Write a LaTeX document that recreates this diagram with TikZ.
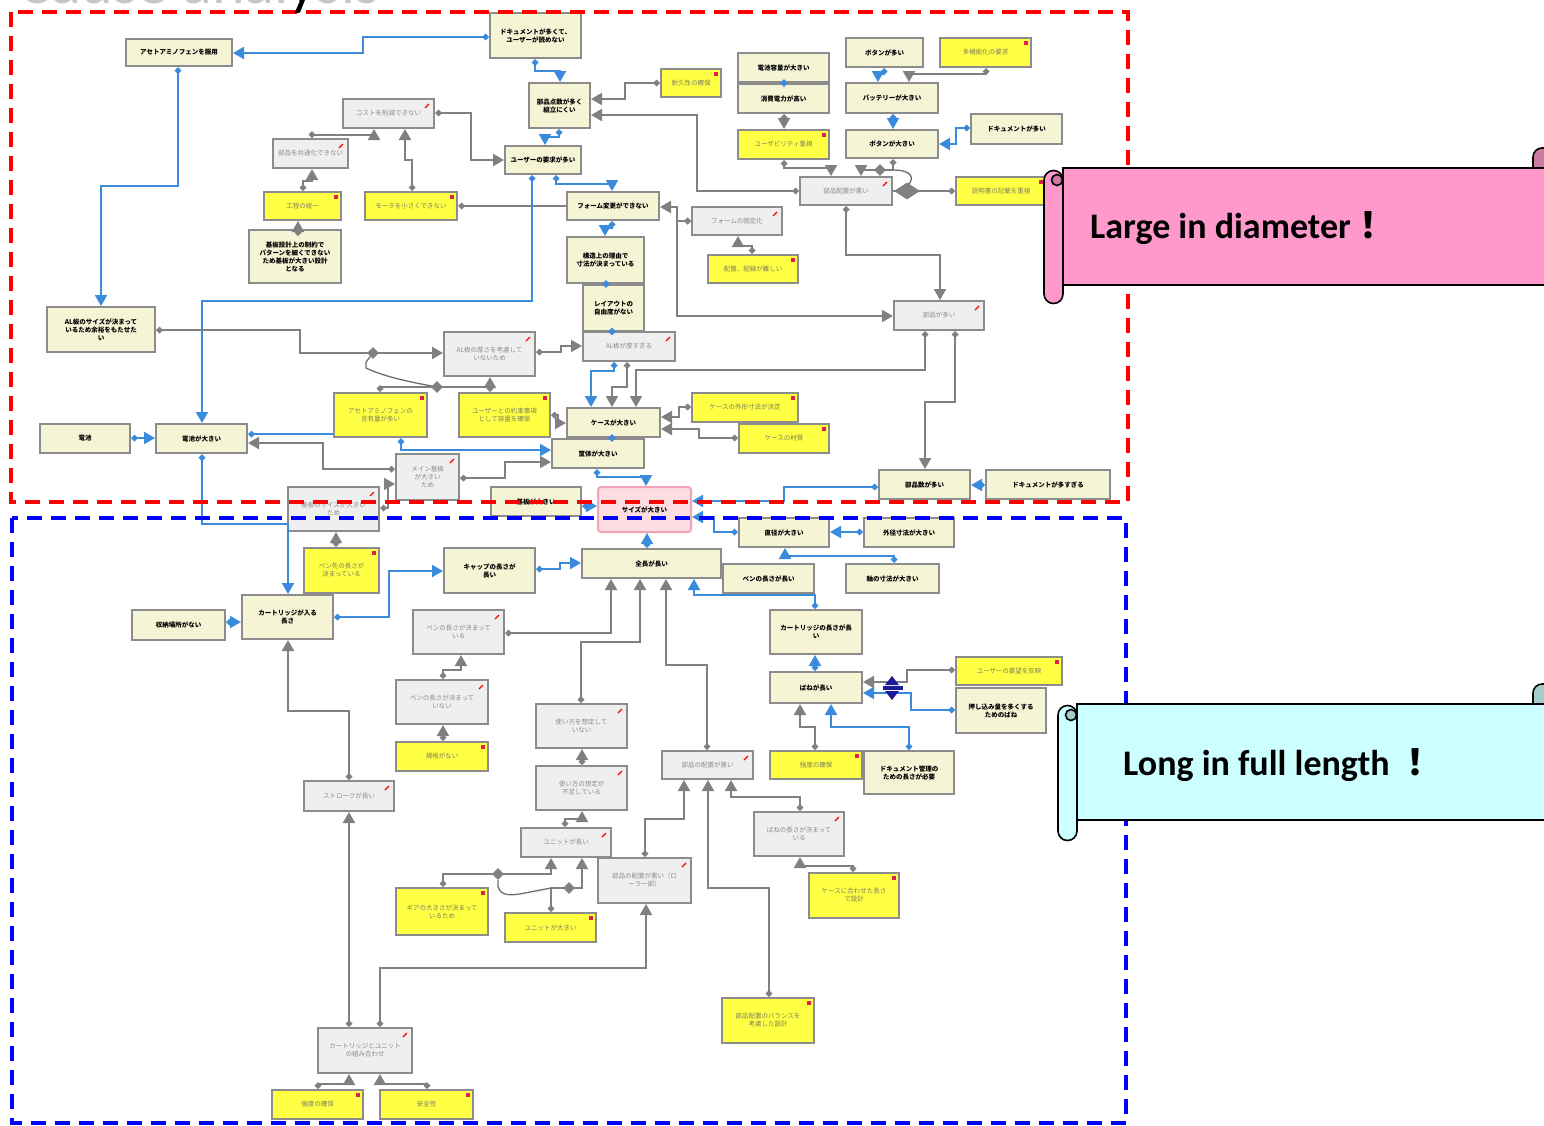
\documentclass[tikz,border=0pt]{standalone}
\usepackage{fontspec}
\newfontfamily\jp{Noto Sans CJK JP}
\newfontfamily\carl{Carlito}
\usetikzlibrary{arrows.meta,shapes.geometric}

\definecolor{boxbeige}{HTML}{F5F5D6}
\definecolor{boxyellow}{HTML}{FFFF44}
\definecolor{boxgray}{HTML}{EFEFEF}
\definecolor{boxborder}{HTML}{8C8C8C}
\definecolor{linkgray}{HTML}{808080}
\definecolor{linkblue}{HTML}{3A8BDB}
\definecolor{ytext}{HTML}{7E7E60}
\definecolor{gtext}{HTML}{8A8A8A}
\definecolor{pinkfill}{HTML}{FBDDE2}
\definecolor{pinkline}{HTML}{F4A3B6}
\definecolor{scrollpink}{HTML}{FF99CC}
\definecolor{scrollpinkdark}{HTML}{CC7AA3}
\definecolor{scrollcyan}{HTML}{CCFFFF}
\definecolor{scrollcyandark}{HTML}{A3CCCC}
\definecolor{navymark}{HTML}{1A1A9A}
\definecolor{notemark}{HTML}{E0204A}

% box with corners (x1,y1)-(x2,y2) in pixel units
\newcommand\mkbox[7]{\node[#2,minimum width={#5pt-#3pt},minimum height={#6pt-#4pt}] (#1) at ({(#3+#5)/2},{(#4+#6)/2}) {#7};}

\begin{document}
\begin{tikzpicture}[x=1pt,y=-1pt,
  boxbase/.style={draw=boxborder,line width=2pt,inner sep=1pt,align=center},
  bg/.style={boxbase,fill=boxbeige,text=black,font=\jp\bfseries\fontsize{6.5}{8}\selectfont},
  yb/.style={boxbase,fill=boxyellow,text=ytext,font=\jp\fontsize{6.5}{8}\selectfont,
    path picture={\fill[notemark] ([xshift=-7pt,yshift=-3pt]path picture bounding box.north east) rectangle ++(4pt,-4pt);}},
  gb/.style={boxbase,fill=boxgray,text=gtext,font=\jp\fontsize{6.5}{8}\selectfont,
    path picture={\draw[red,line width=1.2pt] ([xshift=-9pt,yshift=-9pt]path picture bounding box.north east) -- ++(4pt,4pt);}},
  pk/.style={boxbase,fill=pinkfill,draw=pinkline,rounded corners=3pt,text=black,font=\jp\bfseries\fontsize{6.5}{8}\selectfont},
  lk/.style={line width=2pt,line join=miter},
  gl/.style={lk,draw=linkgray,arrows={Diamond[length=7pt,width=7pt]-Triangle[length=11pt,width=12pt]}},
  bl/.style={lk,draw=linkblue,arrows={Diamond[length=7pt,width=7pt]-Triangle[length=11pt,width=12pt]}},
  gline/.style={lk,draw=linkgray,arrows={Diamond[length=7pt,width=7pt]-}},
  bline/.style={lk,draw=linkblue,arrows={Diamond[length=7pt,width=7pt]-}},
  jd/.style={diamond,fill=linkgray,inner sep=0pt,minimum width=12pt,minimum height=12pt},
  bigdia/.style={diamond,fill=linkgray,inner sep=0pt,minimum width=26pt,minimum height=17pt},
  bdot/.style={diamond,fill=linkblue,inner sep=0pt,minimum width=8pt,minimum height=8pt},
  curl/.style={draw=linkgray!85!black,line width=1.3pt},
  scroll/.style={draw=black,line width=1.6pt}
]
\useasboundingbox (0,0) rectangle (1544,1125);

% ---------------- upper cluster ----------------
\mkbox{b1}{bg}{126}{39}{232}{66}{アセトアミノフェンを服用}
\mkbox{b2}{bg}{490}{13}{581}{58}{ドキュメントが多くて、\\ユーザーが読めない}
\mkbox{b3}{bg}{529}{83}{590}{128}{部品点数が多く\\組立にくい}
\mkbox{b4}{yb}{661}{69}{721}{97}{耐久性の確保}
\mkbox{b5}{gb}{343}{99}{434}{128}{コストを削減できない}
\mkbox{b6}{gb}{273}{139}{348}{168}{部品を共通化できない}
\mkbox{b7}{bg}{505}{146}{581}{174}{ユーザーの要求が多い}
\mkbox{b8}{yb}{264}{192}{341}{220}{工程の統一}
\mkbox{b9}{yb}{365}{192}{457}{220}{モータを小さくできない}
\mkbox{b10}{bg}{249}{230}{341}{283}{基板設計上の制約で\\パターンを細くできない\\ため基板が大きい設計\\となる}
\mkbox{b11}{bg}{567}{192}{659}{220}{フォーム変更ができない}
\mkbox{b12}{gb}{692}{207}{782}{235}{フォームの固定化}
\mkbox{b13}{yb}{708}{255}{798}{283}{配置、配線が難しい}
\mkbox{b14}{bg}{567}{237}{644}{283}{構造上の理由で\\寸法が決まっている}
\mkbox{b15}{bg}{583}{285}{644}{331}{レイアウトの\\自由度がない}
\mkbox{b16}{bg}{738}{53}{829}{82}{電池容量が大きい}
\mkbox{b17}{bg}{738}{84}{829}{113}{消費電力が高い}
\mkbox{b18}{yb}{738}{130}{829}{159}{ユーザビリティ重視}
\mkbox{b19}{bg}{846}{38}{923}{67}{ボタンが多い}
\mkbox{b20}{yb}{940}{38}{1031}{67}{多機能化の要求}
\mkbox{b21}{bg}{846}{83}{938}{113}{バッテリーが大きい}
\mkbox{b22}{bg}{846}{130}{938}{158}{ボタンが大きい}
\mkbox{b23}{bg}{971}{114}{1062}{144}{ドキュメントが多い}
\mkbox{b24}{gb}{800}{177}{892}{205}{部品配置が悪い}
\mkbox{b25}{yb}{956}{177}{1046}{205}{説明書の記載を重視}
\mkbox{b26}{bg}{47}{307}{155}{352}{AL板のサイズが決まって\\いるため余裕をもたせた\\い}
\mkbox{b27}{gb}{444}{332}{535}{376}{AL板の厚さを考慮して\\いないため}
\mkbox{b28}{gb}{583}{332}{675}{361}{AL板が厚すぎる}
\mkbox{b29}{gb}{894}{301}{984}{330}{部品が多い}
\mkbox{b30}{yb}{334}{393}{427}{437}{アセトアミノフェンの\\含有量が多い}
\mkbox{b31}{yb}{459}{393}{550}{437}{ユーザーとの約束事項\\として容量を確保}
\mkbox{b32}{bg}{567}{408}{660}{437}{ケースが大きい}
\mkbox{b33}{yb}{692}{393}{798}{422}{ケースの外形寸法が決定}
\mkbox{b34}{yb}{739}{424}{829}{453}{ケースの材質}
\mkbox{b35}{bg}{40}{424}{130}{453}{電池}
\mkbox{b36}{bg}{156}{424}{247}{453}{電池が大きい}
\mkbox{b37}{bg}{552}{439}{644}{468}{筐体が大きい}
\mkbox{b38}{gb}{396}{454}{459}{500}{メイン基板\\が大きい\\ため}
\mkbox{b39}{gb}{288}{487}{379}{531}{基板のサイズが大きい\\ため}
\mkbox{b40}{bg}{491}{487}{581}{516}{基板が大きい}
\mkbox{b41}{pk}{598}{487}{691}{532}{サイズが大きい}
\mkbox{b42}{bg}{879}{470}{970}{499}{部品数が多い}
\mkbox{b43}{bg}{986}{470}{1110}{499}{ドキュメントが多すぎる}

% ---------------- lower cluster ----------------
\mkbox{b44}{bg}{739}{518}{829}{547}{直径が大きい}
\mkbox{b45}{bg}{864}{518}{954}{547}{外径寸法が大きい}
\mkbox{b46}{bg}{582}{549}{721}{578}{全長が長い}
\mkbox{b47}{bg}{723}{564}{814}{593}{ペンの長さが長い}
\mkbox{b48}{bg}{846}{564}{939}{593}{軸の寸法が大きい}
\mkbox{b49}{yb}{304}{548}{379}{593}{ペン先の長さが\\決まっている}
\mkbox{b50}{bg}{444}{548}{535}{593}{キャップの長さが\\長い}
\mkbox{b51}{bg}{132}{610}{225}{640}{収納場所がない}
\mkbox{b52}{bg}{242}{595}{333}{639}{カートリッジが入る\\長さ}
\mkbox{b53}{gb}{413}{610}{504}{654}{ペンの長さが決まって\\いる}
\mkbox{b54}{gb}{396}{680}{488}{724}{ペンの長さが決まって\\いない}
\mkbox{b55}{yb}{396}{742}{488}{771}{規格がない}
\mkbox{b56}{bg}{770}{610}{862}{654}{カートリッジの長さが長\\い}
\mkbox{b57}{bg}{770}{672}{862}{703}{ばねが長い}
\mkbox{b58}{yb}{956}{657}{1062}{685}{ユーザーの要望を反映}
\mkbox{b59}{bg}{956}{688}{1046}{733}{押し込み量を多くする\\ためのばね}
\mkbox{b60}{yb}{770}{751}{862}{779}{強度の確保}
\mkbox{b61}{bg}{864}{751}{954}{794}{ドキュメント管理の\\ための長さが必要}
\mkbox{b62}{gb}{536}{704}{627}{748}{使い方を想定して\\いない}
\mkbox{b63}{gb}{536}{766}{627}{810}{使い方の想定が\\不足している}
\mkbox{b64}{gb}{662}{751}{753}{779}{部品の配置が悪い}
\mkbox{b65}{gb}{304}{781}{394}{811}{ストロークが長い}
\mkbox{b66}{gb}{521}{828}{611}{857}{ユニットが長い}
\mkbox{b67}{gb}{598}{858}{691}{903}{部品の配置が悪い（ロ\\ーラー部）}
\mkbox{b68}{gb}{754}{812}{844}{856}{ばねの長さが決まって\\いる}
\mkbox{b69}{yb}{396}{888}{488}{935}{ギアの大きさが決まって\\いるため}
\mkbox{b70}{yb}{505}{913}{596}{942}{ユニットが大きい}
\mkbox{b71}{yb}{809}{873}{899}{918}{ケースに合わせた長さ\\で設計}
\mkbox{b72}{yb}{722}{998}{814}{1043}{部品配置のバランスを\\考慮した設計}
\mkbox{b73}{gb}{318}{1028}{412}{1073}{カートリッジとユニット\\の組み合わせ}
\mkbox{b74}{yb}{272}{1090}{363}{1119}{強度の確保}
\mkbox{b75}{yb}{380}{1090}{473}{1119}{安全性}

% ---------------- connectors: upper cluster ----------------
\draw[bl] (b2.west |- 0,37) -- (363,37) -- (363,53) -- (b1.east |- 0,53);
\draw[bl] (b1.south -| 178,0) -- (178,186) -- (101,186) -- (b26.north -| 101,0);
\draw[bl] (b2.south -| 535,0) -- (535,71) -- (560,71) -- (b3.north -| 560,0);
\draw[bl] (b3.south -| 559,0) -- (559,137) -- (545,137) -- (b7.north -| 545,0);
\draw[gl] (b4.west |- 0,83) -- (625,83) -- (625,99) -- (b3.east |- 0,99);
\draw[gl] (b24.west |- 0,191) -- (697,191) -- (697,115) -- (b3.east |- 0,115);
\draw[gl] (b5.east |- 0,113) -- (471,113) -- (471,160) -- (b7.west |- 0,160);
\draw[gl] (b6.north -| 312,0) -- (312,135) -- (374,135) -- (b5.south -| 374,0);
\draw[gl] (b9.north -| 412,0) -- (412,160) -- (405,160) -- (b5.south -| 405,0);
\draw[gl] (b8.north -| 303,0) -- (303,181) -- (312,181) -- (b6.south -| 312,0);
\draw[gl] (b10.north -| 298,0) -- (b8.south -| 298,0);
\draw[gline] (b9.east |- 0,206) -- (b11.west |- 0,206);
\draw[bl] (b7.south -| 532,0) -- (532,301) -- (202,301) -- (b36.north -| 202,0);
\draw[bl] (b7.south -| 556,0) -- (556,184) -- (612,184) -- (b11.north -| 612,0);
\draw[bl] (b11.south -| 612,0) -- (612,228) -- (605,228) -- (b14.north -| 605,0);
\draw[gl] (b12.west |- 0,221) -- (677,221) -- (677,207) -- (b11.east |- 0,207);
\draw[gl] (b12.west |- 0,221) -- (677,221) -- (677,316) -- (b29.west |- 0,316);
\draw[gl] (b13.north -| 752,0) -- (752,246) -- (738,246) -- (b12.south -| 738,0);
\node[bdot] (d1) at (606,284) {};
\node[bdot] (d2) at (612,331.5) {};
\node[bdot] (d3) at (784,83) {};
\draw[gl] (b17.south -| 784,0) -- (b18.north -| 784,0);
\draw[bl] (b19.south -| 884,0) -- (884,74) -- (878,74) -- (b21.north -| 878,0);
\draw[gl] (b20.south -| 986,0) -- (986,74) -- (909,74) -- (b21.north -| 909,0);
\draw[bl] (b21.south -| 893,0) -- (b22.north -| 893,0);
\draw[bl] (b23.west |- 0,128) -- (956,128) -- (956,144) -- (b22.east |- 0,144);
\draw[gl] (b18.south -| 784,0) -- (784,168) -- (831,168) -- (b24.north -| 831,0);
\draw[gl] (b22.south -| 893,0) -- (893,170) -- (861,170) -- (b24.north -| 861,0);
\node[jd] (j0) at (880,170) {};
\draw[curl] (893,170) .. controls (913,170) and (915,179) .. (907,186);
\draw[gline] (b25.west |- 0,191) -- (b24.east |- 0,191);
\node[bigdia] (j5) at (907,191) {};
\draw[gl] (b24.south -| 846,0) -- (846,255) -- (940,255) -- (b29.north -| 940,0);
\draw[gl] (b29.south -| 955,0) -- (955,402) -- (925,402) -- (b42.north -| 925,0);
\draw[gl] (b29.south -| 925,0) -- (925,370) -- (636,370) -- (b32.north -| 636,0);
\draw[gl] (b28.south -| 627,0) -- (627,387) -- (612,387) -- (b32.north -| 612,0);
\draw[bl] (b28.south -| 614,0) -- (614,371) -- (591,371) -- (b32.north -| 591,0);
\draw[gl] (b27.east |- 0,352) -- (561,352) -- (561,346) -- (b28.west |- 0,346);
\draw[gl] (b26.east |- 0,330) -- (300,330) -- (300,353) -- (b27.west |- 0,353);
\node[jd] (j1) at (373,353) {};
\draw[curl] (j1) -- (366,362) -- (366,368) .. controls (385,377) and (410,382) .. (437,387);
\draw[gline] (b30.north -| 380,0) -- (380,387) -- (490,387);
\node[jd] (j2) at (437,387) {};
\draw[gl] (b31.north -| 490,0) -- (b27.south -| 490,0);
\draw[gl] (b31.east |- 0,415) -- (558,415) -- (558,423) -- (b32.west |- 0,423);
\draw[gl] (b33.west |- 0,407) -- (679,407) -- (679,417) -- (b32.east |- 0,417);
\draw[gl] (b34.west |- 0,438) -- (699,438) -- (699,429) -- (b32.east |- 0,429);
\node[bdot] (d4) at (612,438) {};
\draw[bl] (b30.south -| 401,0) -- (401,450) -- (b37.west |- 0,450);
\draw[bline] (b36.east |- 0,434) -- (b30.west |- 0,434);
\draw[gl] (b38.west |- 0,469) -- (323,469) -- (323,443) -- (b36.east |- 0,443);
\draw[gl] (b38.east |- 0,478) -- (505,478) -- (505,462) -- (b37.west |- 0,462);
\draw[gl] (b39.east |- 0,508) -- (388,508) -- (388,484) -- (b38.west |- 0,484);
\draw[bl] (b35.east |- 0,438) -- (b36.west |- 0,438);
\draw[bl] (b36.south -| 202,0) -- (202,524) -- (288,524) -- (b52.north -| 288,0);
\draw[gl] (b49.north -| 336,0) -- (b39.south -| 336,0);
\draw[bl] (b37.south -| 597,0) -- (597,477) -- (646,477) -- (b41.north -| 646,0);
\draw[bl] (b40.east |- 0,506) -- (b41.west |- 0,506);
\draw[bl] (b42.west |- 0,487) -- (784,487) -- (784,501) -- (b41.east |- 0,501);
\draw[bl] (b43.west |- 0,485) -- (b42.east |- 0,485);

% ---------------- connectors: lower cluster ----------------
\draw[bl] (b44.west |- 0,532) -- (714,532) -- (714,517) -- (b41.east |- 0,517);
\draw[bl] (b45.west |- 0,532) -- (b44.east |- 0,532);
\draw[bl] (b46.north -| 647,0) -- (b41.south -| 647,0);
\draw[bl] (b48.north -| 894,0) -- (894,556) -- (785,556) -- (b44.south -| 785,0);
\draw[bl] (b56.north -| 815,0) -- (815,595) -- (694,595) -- (b46.south -| 694,0);
\draw[gl] (b53.east |- 0,633) -- (611,633) -- (b46.south -| 611,0);
\draw[gl] (b62.north -| 581,0) -- (581,642) -- (640,642) -- (b46.south -| 640,0);
\draw[gl] (b64.north -| 707,0) -- (707,665) -- (666,665) -- (b46.south -| 666,0);
\draw[bl] (b50.east |- 0,569) -- (560,569) -- (560,563) -- (b46.west |- 0,563);
\draw[bl] (b52.east |- 0,617) -- (389,617) -- (389,571) -- (b50.west |- 0,571);
\draw[bl] (b51.east |- 0,622) -- (b52.west |- 0,622);
\draw[gl] (b65.north -| 349,0) -- (349,711) -- (288,711) -- (b52.south -| 288,0);
\draw[gl] (b54.north -| 443,0) -- (443,670) -- (461,670) -- (b53.south -| 461,0);
\draw[gl] (b55.north -| 443,0) -- (b54.south -| 443,0);
\draw[bl] (b57.north -| 815,0) -- (b56.south -| 815,0);
\draw[gl] (b58.west |- 0,670) -- (907,670) -- (907,682) -- (b57.east |- 0,682);
\draw[bl] (b59.west |- 0,710) -- (911,710) -- (911,693) -- (b57.east |- 0,693);
\fill[navymark] (892,676) -- (885,685) -- (899,685) -- cycle;
\fill[navymark] (892,700) -- (885,691) -- (899,691) -- cycle;
\fill[navymark] (883,686) rectangle (903,690);
\draw[gl] (b60.north -| 815,0) -- (815,727) -- (800,727) -- (b57.south -| 800,0);
\draw[bl] (b61.north -| 909,0) -- (909,727) -- (831,727) -- (b57.south -| 831,0);
\draw[gl] (b63.north -| 582,0) -- (b62.south -| 582,0);
\draw[gl] (b66.north -| 565,0) -- (565,819) -- (582,819) -- (b63.south -| 582,0);
\draw[gl] (b69.north -| 443,0) -- (443,874) -- (551,874) -- (b66.south -| 551,0);
\node[jd] (j3) at (498,874) {};
\draw[gl] (b70.north -| 551,0) -- (551,888) -- (582,888) -- (b66.south -| 582,0);
\node[jd] (j4) at (569,888) {};
\draw[curl] (j3) -- (498,886) .. controls (500,896) and (510,896) .. (525,893) -- (551,888);
\draw[gl] (b67.north -| 645,0) -- (645,819) -- (684,819) -- (b64.south -| 684,0);
\draw[gl] (b72.north -| 769,0) -- (769,888) -- (708,888) -- (b64.south -| 708,0);
\draw[gl] (b68.north -| 800,0) -- (800,797) -- (731,797) -- (b64.south -| 731,0);
\draw[gl] (b71.north -| 853,0) -- (853,866) -- (800,866) -- (b68.south -| 800,0);
\draw[gl] (b73.north -| 349,0) -- (b65.south -| 349,0);
\draw[gl] (b73.north -| 380,0) -- (380,968) -- (646,968) -- (b67.south -| 646,0);
\draw[gl] (b74.north -| 318,0) -- (318,1084) -- (349,1084) -- (b73.south -| 349,0);
\draw[gl] (b75.north -| 427,0) -- (427,1084) -- (380,1084) -- (b73.south -| 380,0);

% ---------------- region frames ----------------
\draw[red,line width=3.5pt,dash pattern=on 15pt off 9pt] (11,12) rectangle (1128,502);
\draw[blue,line width=3.5pt,dash pattern=on 15pt off 9pt] (12,518) rectangle (1126,1123);

% ---------------- scroll banners ----------------
\filldraw[scroll,fill=scrollpink] (1063,168) rectangle (1560,285);
\filldraw[scroll,fill=scrollpink] (1044,180) -- (1044,294) arc[start angle=180,end angle=0,radius=9.5] -- (1063,180) arc[start angle=0,end angle=-180,radius=9.5] -- cycle;
\filldraw[scroll,fill=scrollpinkdark] (1057,180) circle[radius=5.5];
\filldraw[scroll,fill=scrollpinkdark] (1533,168) -- (1533,157) arc[start angle=180,end angle=270,radius=9] -- (1552,148) -- (1552,168) -- cycle;
\node[anchor=base west,inner sep=0pt,font=\carl\bfseries\fontsize{36}{36}\selectfont] (s1) at (1090,238) {Large in diameter{\jp\bfseries ！}};

\filldraw[scroll,fill=scrollcyan] (1077,704) rectangle (1560,820);
\filldraw[scroll,fill=scrollcyan] (1058,715) -- (1058,831) arc[start angle=180,end angle=0,radius=9.5] -- (1077,715) arc[start angle=0,end angle=-180,radius=9.5] -- cycle;
\filldraw[scroll,fill=scrollcyandark] (1071,715) circle[radius=5.5];
\filldraw[scroll,fill=scrollcyandark] (1533,704) -- (1533,693) arc[start angle=180,end angle=270,radius=9] -- (1552,684) -- (1552,704) -- cycle;
\node[anchor=base west,inner sep=0pt,font=\carl\bfseries\fontsize{36}{36}\selectfont] (s2) at (1123,775) {Long in full length {\jp\bfseries ！}};

% ---------------- heading (runs off the top edge) ----------------
\node[anchor=base west,inner sep=0pt,text=gray!45,font=\carl\fontsize{62}{62}\selectfont] (title) at (18,3) {Cause anal{\color{black}y}sis};
\end{tikzpicture}
\end{document}
